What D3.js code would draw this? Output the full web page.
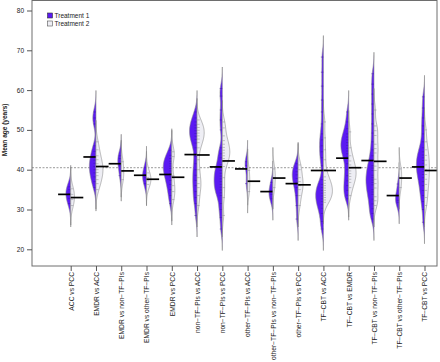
<!DOCTYPE html>
<html>
<head>
<meta charset="utf-8">
<script src="https://cdn.jsdelivr.net/npm/d3@7"></script>
<style>
  body { margin: 0; background: #fff; }
  svg { display: block; font-family: "Liberation Sans", Arial, sans-serif; }
</style>
</head>
<body>
<div id="chart"></div>
<script>
// comparisons on the x axis
const groups = [
  "ACC vs PCC", "EMDR vs ACC", "EMDR vs non\u2212TF\u2212PIs", "EMDR vs other\u2212TF\u2212PIs",
  "EMDR vs PCC", "non\u2212TF\u2212PIs vs ACC", "non\u2212TF\u2212PIs vs PCC", "other\u2212TF\u2212PIs vs ACC",
  "other\u2212TF\u2212PIs vs non\u2212TF\u2212PIs", "other\u2212TF\u2212PIs vs PCC", "TF\u2212CBT vs ACC",
  "TF\u2212CBT vs EMDR", "TF\u2212CBT vs non\u2212TF\u2212PIs", "TF\u2212CBT vs other\u2212TF\u2212PIs", "TF\u2212CBT vs PCC"
];
const treatments = ["Treatment 1", "Treatment 2"];
const yTicks = [20, 30, 40, 50, 60, 70, 80];
const overallMean = 40.5;

// mean age per comparison (bean lines)
const mean1 = [33.8, 43.2, 41.5, 38.6, 38.8, 43.8, 40.7, 40.2, 34.5, 36.5, 39.8, 42.9, 42.3, 33.5, 40.7];
const mean2 = [33.0, 40.8, 39.7, 37.6, 38.1, 43.7, 42.2, 37.1, 37.9, 36.2, 39.8, 40.5, 42.1, 37.9, 39.8];

// mean age of each study arm, treatment 1
const obs1 = [
  [31.5, 32.8, 34.0, 35.0, 35.7],
  [35.5, 37, 38.2, 39.2, 40, 40.8, 41.6, 42.4, 43.4, 44.6, 46, 51.5, 53, 54.5],
  [38.5, 41, 42.8, 43.5],
  [36.5, 38, 38.8, 40.5],
  [31.5, 33.5, 35, 36.3, 37.3, 38.2, 39, 39.7, 40.3, 40.9, 41.5, 42.1, 42.8, 43.6, 44.9],
  [28.5, 31.5, 33, 34.5, 36, 37.3, 38.6, 40, 41.5, 43.3, 45.5, 46.7, 47.6, 48.4, 49.1, 49.8, 50.5, 51.2, 52, 53, 54.5],
  [25.1, 28, 30, 31.5, 33.5, 34.2, 34.9, 35.6, 36.3, 37, 37.7, 38.4, 39.1, 39.8, 40.5, 41.3, 43, 44, 45.5, 50, 52.5, 55, 58.5, 60.4],
  [36.5, 41, 42],
  [32.7, 33.8, 34.8, 36.8],
  [27.6, 31, 33.5, 35.5, 36.8, 37.8, 38.7, 39.5, 40.4, 41.5],
  [25.1, 27, 29, 30.3, 31.2, 32, 32.7, 33.4, 34.1, 34.8, 35.5, 36.3, 37.5, 41, 43, 44.5, 46, 47.5, 49, 51.5, 54.5, 57.5, 61, 64.5, 68.3],
  [32.7, 33.6, 34.8, 36, 37.2, 38.5, 40, 41.5, 43.2, 44, 44.7, 45.4, 46.1, 46.8, 47.5, 48.2, 49, 50.3, 52, 54.5],
  [27.6, 29, 30.2, 31.4, 32.6, 33.8, 34.4, 35, 36.2, 36.8, 37.4, 38, 38.6, 39.8, 40.4, 41, 42.2, 43.5, 45, 47, 49.2, 51.5, 54, 56.5, 59, 61.5, 64.1],
  [31.8, 32.3, 33.5, 36.4],
  [26.8, 30, 32, 33.5, 34.8, 36, 37, 38, 38.8, 39.5, 40.2, 40.9, 41.6, 42.3, 43, 43.7, 44.5, 45.5, 47, 49, 51, 53, 55.5, 58.3]
];

// mean age of each study arm, treatment 2
const obs2 = [
  [31, 32.5, 33.8, 35.2],
  [35, 36.5, 37.5, 38.5, 39.3, 40, 40.7, 41.5, 42.5, 43.5, 45, 47],
  [37.5, 39.5, 42],
  [36.3, 37.2, 38, 39.2],
  [32.5, 34.5, 36, 38.5, 43.3, 44.5],
  [31, 33.5, 35.5, 36.5, 38, 40, 42.5, 45.5, 46.8, 47.7, 48.5, 49.2, 49.9, 50.6, 51.4, 52.5],
  [28.5, 33, 35.5, 38, 40.8, 42, 42.8, 43.5, 44.2, 44.9, 45.6, 46.4, 47.3, 48.5, 50.5, 52],
  [34.5, 37, 39.8],
  [35.5, 38, 40.2],
  [31, 33.5, 35, 36, 37, 38, 40, 41.2],
  [31.8, 32.4, 33, 33.6, 34.2, 34.8, 35.4, 36, 36.6, 37.3, 38.2, 40, 42.5, 45, 48, 52],
  [33.5, 35.5, 36.8, 37.6, 38.3, 39, 39.7, 40.4, 41.2, 42.2, 43.5, 45.5, 49.5],
  [31, 32.2, 33.2, 35.4, 36.5, 37.6, 39.8, 40.9, 42, 44.2, 45.3, 46.4, 48.6, 49.8, 51, 55],
  [35.5, 38, 40.2],
  [31, 33, 34.8, 36.3, 37.6, 38.8, 40, 41.2, 42.4, 43.6, 45, 47, 50]
];

const colors = ["#5b1af2", "#eeeef4"];
const W = 440, H = 362;
const box = {l: 32, r: 437, t: 0.5, b: 266};
const bw = 1.8; // kernel bandwidth (years)

const svg = d3.select("#chart").append("svg")
  .attr("width", W)
  .attr("height", H);

const x = d3.scalePoint().domain(groups).range([70.7, 424.5]);
const y = d3.scaleLinear().domain([20, 80]).range([249.3, 10.5]);
const wid = d3.scaleLinear().domain([0, 1]).range([0, 1.3]);

function kde(vals) {
  const lo = d3.min(vals) - 3 * bw, hi = d3.max(vals) + 3 * bw;
  return d3.range(0, 161).map(i => {
    const t = lo + (hi - lo) * i / 160;
    return [t, d3.sum(vals, v => Math.exp(-0.5 * ((t - v) / bw) ** 2))];
  });
}

const line = d3.line();

// overall mean line
svg.append("line")
  .attr("x1", box.l).attr("x2", box.r)
  .attr("y1", y(overallMean)).attr("y2", y(overallMean))
  .attr("stroke", "#9a9a9a")
  .attr("stroke-dasharray", "2,1.5")
  .attr("stroke-width", 1);

const beans = svg.append("g");

groups.forEach((g, i) => {
  const cx = x(g);
  [[obs1[i], -1, mean1[i], 0], [obs2[i], 1, mean2[i], 1]].forEach(([vals, side, mu, k]) => {
    const dens = kde(vals);
    const pts = [[cx, y(dens[0][0])]]
      .concat(dens.map(d => [cx + side * wid(d[1]), y(d[0])]))
      .concat([[cx, y(dens[dens.length - 1][0])]]);
    beans.append("path")
      .attr("d", line(pts) + "Z")
      .attr("fill", colors[k])
      .attr("stroke", "#8a8a8a")
      .attr("stroke-width", 0.6);

    beans.append("g").selectAll("line")
      .data(vals)
      .join("line")
        .attr("x1", cx).attr("x2", cx + side * 2.6)
        .attr("y1", d => y(d)).attr("y2", d => y(d))
        .attr("stroke", k === 0 ? "#3a14a8" : "#8c8c94")
        .attr("stroke-width", 0.5);

    beans.append("line")
      .attr("x1", cx).attr("x2", cx + side * 12.6)
      .attr("y1", y(mu)).attr("y2", y(mu))
      .attr("stroke", "#000")
      .attr("stroke-width", 1.7);
  });
});

// frame
svg.append("rect")
  .attr("x", box.l).attr("y", box.t)
  .attr("width", box.r - box.l).attr("height", box.b - box.t)
  .attr("fill", "none")
  .attr("stroke", "#6e6e6e")
  .attr("stroke-width", 1);

// y axis
const yAxis = svg.append("g")
  .attr("transform", `translate(${box.l},0)`)
  .call(d3.axisLeft(y).tickValues(yTicks).tickSize(5).tickPadding(3));
yAxis.select(".domain").remove();
yAxis.selectAll("line").attr("stroke", "#555");
yAxis.selectAll("text").attr("font-size", 6.5).attr("fill", "#222")
  .attr("font-family", "Liberation Sans, Arial, sans-serif");

svg.append("text")
  .attr("transform", `translate(7,${y(50)}) rotate(-90)`)
  .attr("text-anchor", "middle")
  .attr("font-size", 6.5)
  .attr("font-weight", "bold")
  .attr("fill", "#222")
  .text("Mean age (years)");

// x axis
const xAxis = svg.append("g")
  .attr("transform", `translate(0,${box.b})`)
  .call(d3.axisBottom(x).tickSize(5));
xAxis.select(".domain").remove();
xAxis.selectAll("line").attr("stroke", "#555");
xAxis.selectAll("text")
  .attr("transform", "rotate(-90)")
  .attr("text-anchor", "end")
  .attr("x", -6)
  .attr("y", 0)
  .attr("dy", "0.35em")
  .attr("font-size", 6.7)
  .attr("fill", "#222")
  .attr("font-family", "Liberation Sans, Arial, sans-serif");

// legend
const legend = svg.append("g").attr("transform", "translate(47.5,13)");
treatments.forEach((t, i) => {
  const row = legend.append("g").attr("transform", `translate(0,${i * 8})`);
  row.append("rect")
    .attr("width", 5).attr("height", 5)
    .attr("fill", colors[i])
    .attr("stroke", i === 0 ? "#333" : "#555")
    .attr("stroke-width", 0.6);
  row.append("text")
    .attr("x", 7).attr("y", 4.8)
    .attr("font-size", 6.5)
    .attr("fill", "#222")
    .text(t);
});
</script>
</body>
</html>
